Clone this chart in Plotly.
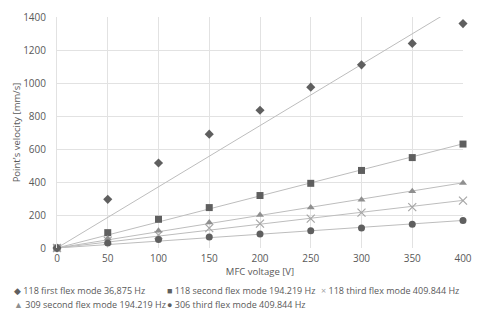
import numpy as np
import plotly.graph_objects as go

# MFC voltage [V]
voltage = [0, 50, 100, 150, 200, 250, 300, 350, 400]

# point velocity [mm/s] per measurement
first_118 = [0, 295, 515, 690, 835, 975, 1110, 1240, 1360]
second_118 = [0, 93, 174, 245, 318, 392, 470, 548, 630]
third_118 = [0, 45, 78, 120, 148, 178, 214, 248, 287]
second_309 = [0, 58, 105, 155, 200, 245, 293, 344, 394]
third_306 = [0, 30, 51, 67, 85, 105, 121, 144, 166]

names = ["118 first flex mode 36,875 Hz",
         "118 second flex mode 194.219 Hz",
         "118 third flex mode 409.844 Hz",
         "309 second flex mode 194.219 Hz",
         "306 third flex mode 409.844 Hz"]

series = [first_118, second_118, third_118, second_309, third_306]
symbols = ["diamond", "square", "x-thin-open", "triangle-up", "circle"]
colors = ["#5f5f5f", "#5f5f5f", "#a6a6a6", "#8f8f8f", "#5f5f5f"]
glyphs = ["\u25c6", "\u25a0", "\u00d7", "\u25b2", "\u25cf"]

FONT = "Open Sans"
GREY = "#595959"

fig = go.Figure()

# linear trend lines with intercept forced to 0 (like excel trendline)
xs = np.array(voltage, dtype=float)
for vals in series:
    ys = np.array(vals, dtype=float)
    k = (xs * ys).sum() / (xs * xs).sum()
    fig.add_trace(go.Scatter(x=xs, y=k * xs, mode="lines",
                             line=dict(color="#bdbdbd", width=1),
                             hoverinfo="skip", showlegend=False))

for vals, nm, sym, col in zip(series, names, symbols, colors):
    mk = dict(symbol=sym, size=7, color=col)
    if sym == "x-thin-open":
        mk["line"] = dict(color=col, width=1.2)
        mk["size"] = 8
    fig.add_trace(go.Scatter(x=voltage, y=vals, mode="markers", name=nm,
                             marker=mk, showlegend=False, cliponaxis=False))

# legend drawn as text rows below the chart
leg_x = [-0.111, 0.266, 0.645, -0.111, 0.266]
leg_y = [-0.185, -0.185, -0.185, -0.244, -0.244]
for g, nm, col, lx, ly in zip(glyphs, names, colors, leg_x, leg_y):
    fig.add_annotation(xref="paper", yref="paper", x=lx, y=ly,
                       xanchor="left", yanchor="middle", showarrow=False,
                       text="<span style='color:%s'>%s</span> %s" % (col, g, nm),
                       font=dict(family=FONT, size=9, color=GREY))

# chart area border (top and right visible)
fig.add_shape(type="line", xref="paper", yref="paper",
              x0=-0.128, x1=1.033, y0=1.043, y1=1.043,
              line=dict(color="#e0e0e0", width=1))
fig.add_shape(type="line", xref="paper", yref="paper",
              x0=1.033, x1=1.033, y0=1.043, y1=-0.35,
              line=dict(color="#e0e0e0", width=1))

fig.update_xaxes(range=[0, 400], tickvals=voltage, showgrid=True,
                 gridcolor="#e2e2e2", gridwidth=1, zeroline=False,
                 showline=False, ticks="", automargin=False,
                 ticklabelstandoff=3,
                 tickfont=dict(family=FONT, size=10, color=GREY),
                 title=dict(text="MFC voltage [V]", standoff=2,
                            font=dict(family=FONT, size=9.5, color=GREY)))
fig.update_yaxes(range=[0, 1400], dtick=200, showgrid=True,
                 gridcolor="#e2e2e2", gridwidth=1, zeroline=False,
                 showline=True, linecolor="#e2e2e2", mirror=False,
                 ticks="", automargin=False, ticklabelstandoff=8,
                 tickfont=dict(family=FONT, size=10, color=GREY),
                 title=dict(text="Point's velocity [mm/s]", standoff=0,
                            font=dict(family=FONT, size=9.5, color=GREY)))

# page body has an 8px margin, so the figure is 8px smaller than the window
fig.update_layout(width=472, height=312,
                  margin=dict(l=49, r=17, t=9, b=72),
                  plot_bgcolor="white", paper_bgcolor="white",
                  font=dict(family=FONT, size=9, color=GREY),
                  showlegend=False)

fig.write_html("out.html")
